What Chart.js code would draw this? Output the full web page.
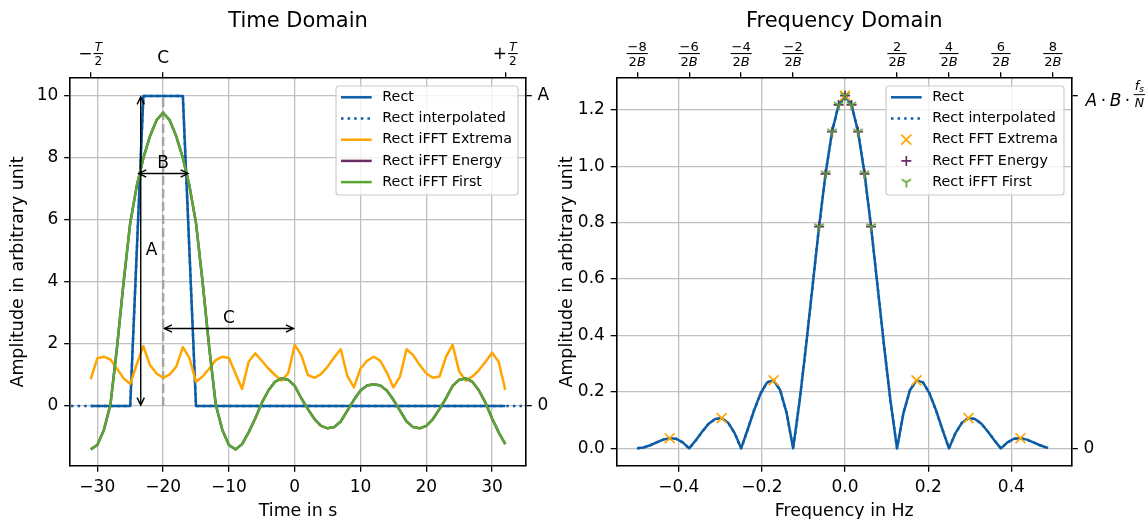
<!DOCTYPE html>
<html lang="en">
<head>
<meta charset="utf-8">
<title>Time Domain / Frequency Domain</title>
<script src="https://cdn.jsdelivr.net/npm/chart.js"></script>
<style>
  html, body { margin: 0; padding: 0; background: #fff; }
  #wrap { position: relative; width: 1148px; height: 519px; overflow: hidden; }
  #wrap canvas { position: absolute; top: 0; }
  #time-chart { left: 0; }
  #freq-chart { left: 540px; }
</style>
</head>
<body>
<div id="wrap">
  <canvas id="time-chart" width="574" height="519"></canvas>
  <canvas id="freq-chart" width="608" height="519"></canvas>
</div>
<script>
// ---------- time domain data ----------
const timeS = [-31, -30, -29, -28, -27, -26, -25, -24, -23, -22, -21, -20, -19, -18, -17, -16,
  -15, -14, -13, -12, -11, -10, -9, -8, -7, -6, -5, -4, -3, -2, -1, 0,
  1, 2, 3, 4, 5, 6, 7, 8, 9, 10, 11, 12, 13, 14, 15, 16,
  17, 18, 19, 20, 21, 22, 23, 24, 25, 26, 27, 28, 29, 30, 31, 32];
const rectAmp = [0, 0, 0, 0, 0, 0, 0, 5, 10, 10, 10, 10, 10, 10, 10, 5,
  0, 0, 0, 0, 0, 0, 0, 0, 0, 0, 0, 0, 0, 0, 0, 0,
  0, 0, 0, 0, 0, 0, 0, 0, 0, 0, 0, 0, 0, 0, 0, 0,
  0, 0, 0, 0, 0, 0, 0, 0, 0, 0, 0, 0, 0, 0, 0, 0];
const rectInterpT = [-35, -25, -24, -23, -17, -16, -15, 36];
const rectInterpAmp = [0, 0, 5, 10, 10, 5, 0, 0];
const ifftExtrema = [0.87, 1.54, 1.59, 1.50, 1.20, 0.89, 0.71, 1.35, 1.93, 1.32, 1.05, 0.91, 1.02, 1.27, 1.90, 1.55,
  0.78, 0.95, 1.20, 1.48, 1.59, 1.55, 1.05, 0.55, 1.43, 1.70, 1.46, 1.21, 1.00, 0.82, 1.05, 1.97,
  1.64, 1.00, 0.91, 1.03, 1.27, 1.57, 1.83, 0.97, 0.60, 1.21, 1.46, 1.59, 1.46, 1.08, 0.60, 0.95,
  1.83, 1.64, 1.32, 1.05, 0.91, 0.95, 1.59, 1.97, 1.11, 0.82, 0.95, 1.16, 1.43, 1.72, 1.43, 0.52];
const ifftFirst = [-1.40, -1.26, -0.77, 0.05, 1.90, 4.00, 5.90, 7.10, 8.00, 8.70, 9.22, 9.46, 9.22, 8.70, 8.00, 7.10,
  5.90, 4.00, 1.90, 0.05, -0.77, -1.26, -1.40, -1.23, -0.85, -0.40, 0.10, 0.50, 0.78, 0.89, 0.85, 0.65,
  0.25, -0.10, -0.42, -0.64, -0.72, -0.68, -0.50, -0.15, 0.20, 0.50, 0.66, 0.70, 0.66, 0.50, 0.20, -0.15,
  -0.50, -0.68, -0.72, -0.64, -0.42, -0.10, 0.25, 0.65, 0.85, 0.89, 0.78, 0.50, 0.10, -0.40, -0.85, -1.23];
const ifftEnergy = ifftFirst.slice(); // lies exactly under the green curve
const centerT = [-20, -20];
const centerAmp = [0, 10];
const timeTicks = [-30, -20, -10, 0, 10, 20, 30];
const ampTicks = [0, 2, 4, 6, 8, 10];
const timeTopTicks = [-31, -20, 32];
const timeTopLabels = ['−T/2', 'C', '+T/2'];
const timeRightTicks = [0, 10];
const timeRightLabels = ['0', 'A'];

// ---------- frequency domain data ----------
const freqHz = [-0.5, -0.4844, -0.4688, -0.4531, -0.4375, -0.4219, -0.4063, -0.3906,
  -0.375, -0.3594, -0.3438, -0.3281, -0.3125, -0.2969, -0.2813, -0.2656,
  -0.25, -0.2344, -0.2188, -0.2031, -0.1875, -0.1719, -0.1563, -0.1406,
  -0.125, -0.1094, -0.0938, -0.0781, -0.0625, -0.0469, -0.0313, -0.0156,
  0, 0.0156, 0.0313, 0.0469, 0.0625, 0.0781, 0.0938, 0.1094,
  0.125, 0.1406, 0.1563, 0.1719, 0.1875, 0.2031, 0.2188, 0.2344,
  0.25, 0.2656, 0.2813, 0.2969, 0.3125, 0.3281, 0.3438, 0.3594,
  0.375, 0.3906, 0.4063, 0.4219, 0.4375, 0.4531, 0.4688, 0.4844];
const rectSpec = [0, 0.003, 0.011, 0.021, 0.031, 0.036, 0.034, 0.021,
  0, 0.028, 0.059, 0.087, 0.104, 0.107, 0.091, 0.054,
  0, 0.066, 0.135, 0.195, 0.234, 0.241, 0.207, 0.126,
  0, 0.167, 0.364, 0.576, 0.786, 0.973, 1.122, 1.217,
  1.25, 1.217, 1.122, 0.973, 0.786, 0.576, 0.364, 0.167,
  0, 0.126, 0.207, 0.241, 0.234, 0.195, 0.135, 0.066,
  0, 0.054, 0.091, 0.107, 0.104, 0.087, 0.059, 0.028,
  0, 0.021, 0.034, 0.036, 0.031, 0.021, 0.011, 0.003];
const interpHz = [...freqHz, 0.4961];
const interpSpec = [...rectSpec, 0];
const extremaHz = [-0.4219, -0.2969, -0.1719, 0, 0.1719, 0.2969, 0.4219];
const extremaAmp = [0.036, 0.107, 0.241, 1.25, 0.241, 0.107, 0.036];
const energyHz = [-0.0625, -0.0469, -0.0313, -0.0156, 0, 0.0156, 0.0313, 0.0469, 0.0625];
const energyAmp = [0.786, 0.973, 1.122, 1.217, 1.25, 1.217, 1.122, 0.973, 0.786];
const firstHz = [-0.0625, -0.0469, -0.0313, -0.0156, 0, 0.0156, 0.0313, 0.0469, 0.0625];
const firstAmp = [0.786, 0.973, 1.122, 1.217, 1.25, 1.217, 1.122, 0.973, 0.786];
const freqTicks = [-0.4, -0.2, 0, 0.2, 0.4];
const specTicks = [0, 0.2, 0.4, 0.6, 0.8, 1.0, 1.2];
const freqTopTicks = [-0.5, -0.375, -0.25, -0.125, 0.125, 0.25, 0.375, 0.5];
const freqTopLabels = ['−8/2B', '−6/2B', '−4/2B', '−2/2B', '2/2B', '4/2B', '6/2B', '8/2B'];
const specRightTicks = [0, 1.25];
const specRightLabels = ['0', 'A·B·f_s/N'];

// ---------- look ----------
const FONT = '"DejaVu Sans", sans-serif';
const BLUE = '#0C5DA5', ORANGE = '#FFA500', PURPLE = '#6B2C66', GREEN = '#59A733', GRID = '#c0c0c0';
const TICK_SIZE = 17;
const TICK_FONT = { family: FONT, size: TICK_SIZE };
const LABEL_FONT = { family: FONT, size: 17.4 };
const LEGEND_SIZE = 14.3;

Chart.defaults.font.family = FONT;
Chart.defaults.color = '#000';

const pts = (xs, ys) => xs.map((x, i) => ({ x, y: ys[i] }));
const minus = s => String(s).replace('-', '\u2212');

function triDown(color, r, lw) {
  const c = document.createElement('canvas');
  const n = Math.ceil(2 * r + 2 * lw + 2);
  c.width = c.height = n;
  const g = c.getContext('2d');
  const m = n / 2;
  g.strokeStyle = color; g.lineWidth = lw;
  g.beginPath();
  g.moveTo(m, m); g.lineTo(m, m + r);
  g.moveTo(m, m); g.lineTo(m - r * 0.866, m - r * 0.5);
  g.moveTo(m, m); g.lineTo(m + r * 0.866, m - r * 0.5);
  g.stroke();
  return c;
}
const TRI = triDown(GREEN, 5.5, 1.7);

function mkScale(o) {
  return {
    type: 'linear',
    position: o.position,
    min: o.min, max: o.max,
    afterBuildTicks: s => { s.ticks = o.ticks.map(v => ({ value: v })); },
    afterFit: s => { if (s.isHorizontal()) s.height = o.size; else s.width = o.size; },
    ticks: { autoSkip: false, maxRotation: 0, minRotation: 0, padding: 5.8, font: TICK_FONT, color: '#000', callback: o.label },
    grid: { display: true, drawOnChartArea: !!o.grid, color: GRID, lineWidth: 1.3,
            drawTicks: true, tickLength: 5.8, tickWidth: 1.3, tickColor: '#000' },
    border: { display: true, color: '#000', width: 1.6 },
    title: o.title ? { display: true, text: o.title, font: LABEL_FONT, color: '#000', padding: o.titlePad } : { display: false },
  };
}

function lineSet(label, xs, ys, color, order, rank, extra) {
  return Object.assign({ label, data: pts(xs, ys), showLine: true, borderColor: color, backgroundColor: color,
    borderWidth: 2.5, pointRadius: 0, pointHoverRadius: 0, tension: 0, borderJoinStyle: 'round',
    order, legendRank: rank, legendKind: 'line' }, extra || {});
}
function markerSet(label, xs, ys, color, style, radius, order, rank, kind) {
  return { label, data: pts(xs, ys), showLine: false, pointStyle: style, pointRadius: radius, pointHoverRadius: radius,
    pointBorderColor: color, pointBackgroundColor: color, pointBorderWidth: 1.7, order, legendRank: rank, legendKind: kind };
}

// ---------- math-ish text helpers ----------
const mathRuns = s => s.match(/[A-Za-z]+|[^A-Za-z]+/g) || [];
const mathFont = (run, size) => (/[A-Za-z]/.test(run) ? 'italic ' : '') + size + 'px ' + FONT;
function mathWidth(ctx, s, size) {
  return mathRuns(s).reduce((w, r) => { ctx.font = mathFont(r, size); return w + ctx.measureText(r).width; }, 0);
}
function drawMath(ctx, s, x, y, size) {
  ctx.textAlign = 'left';
  mathRuns(s).forEach(r => { ctx.font = mathFont(r, size); ctx.fillText(r, x, y); x += ctx.measureText(r).width; });
  return x;
}

function topMath(values, labels, fs) {
  return {
    id: 'topMath',
    afterDraw(chart) {
      const s = chart.scales.xTop, ctx = chart.ctx, top = chart.chartArea.top;
      const lineY = top - 24.5;
      ctx.save();
      ctx.fillStyle = '#000'; ctx.textBaseline = 'alphabetic';
      values.forEach((v, i) => {
        const cx = s.getPixelForValue(v), label = labels[i];
        if (!label.includes('/')) {
          ctx.font = TICK_SIZE + 'px ' + FONT; ctx.textAlign = 'center';
          ctx.fillText(label, cx, top - 15.3);
          return;
        }
        let [num, den] = label.split('/');
        let pre = '';
        if (/^[−+][A-Za-z]/.test(num)) { pre = num[0]; num = num.slice(1); }
        const wn = mathWidth(ctx, num, fs), wd = mathWidth(ctx, den, fs);
        const fw = Math.max(wn, wd) + 2;
        ctx.font = TICK_SIZE + 'px ' + FONT;
        const wp = pre ? ctx.measureText(pre).width + 1 : 0;
        let x = cx - (wp + fw) / 2;
        if (pre) { ctx.textAlign = 'left'; ctx.fillText(pre, x, lineY + 5.8); x += wp; }
        drawMath(ctx, num, x + (fw - wn) / 2, lineY - 2.2, fs);
        drawMath(ctx, den, x + (fw - wd) / 2, lineY + fs * 0.73 + 3, fs);
        ctx.fillRect(x, lineY - 0.5, fw, 1.1);
      });
      ctx.restore();
    }
  };
}

function rightMath(value, text) {
  return {
    id: 'rightMath',
    afterDraw(chart) {
      const ctx = chart.ctx, y = chart.scales.yR.getPixelForValue(value);
      let x = chart.chartArea.right + 13.6;
      const parts = text.split('·');
      const frac = parts.pop();
      ctx.save();
      ctx.fillStyle = '#000'; ctx.textBaseline = 'alphabetic';
      parts.forEach(p => {
        x = drawMath(ctx, p, x, y + 10.5, TICK_SIZE) + 3.5;
        ctx.font = TICK_SIZE + 'px ' + FONT;
        ctx.fillText('·', x, y + 10.5);
        x += ctx.measureText('·').width + 3.5;
      });
      const [num, den] = frac.split('/');
      const [base, sub] = num.split('_');
      const fs = 12.5;
      ctx.font = 'italic ' + fs + 'px ' + FONT;
      const wb = ctx.measureText(base).width;
      ctx.font = 'italic 9px ' + FONT;
      const ws = ctx.measureText(sub).width;
      const wn = wb + ws, wd = mathWidth(ctx, den, fs);
      const fw = Math.max(wn, wd) + 2;
      const lineY = y - 1;
      ctx.font = 'italic ' + fs + 'px ' + FONT;
      ctx.fillText(base, x + (fw - wn) / 2, lineY - 4.5);
      ctx.font = 'italic 9px ' + FONT;
      ctx.fillText(sub, x + (fw - wn) / 2 + wb, lineY - 2.5);
      drawMath(ctx, den, x + (fw - wd) / 2, lineY + 12, fs);
      ctx.fillRect(x, lineY - 0.5, fw, 1);
      ctx.restore();
    }
  };
}

function arrowNotes(arrows, notes) {
  function head(ctx, tx, ty, fx, fy) {
    const a = Math.atan2(ty - fy, tx - fx), L = 7.5, W = 3.6;
    ctx.beginPath();
    ctx.moveTo(tx - L * Math.cos(a) + W * Math.sin(a), ty - L * Math.sin(a) - W * Math.cos(a));
    ctx.lineTo(tx, ty);
    ctx.lineTo(tx - L * Math.cos(a) - W * Math.sin(a), ty - L * Math.sin(a) + W * Math.cos(a));
    ctx.stroke();
  }
  return {
    id: 'arrowNotes',
    afterDatasetsDraw(chart) {
      const { ctx, scales: { x, y } } = chart;
      ctx.save();
      ctx.strokeStyle = '#000'; ctx.lineWidth = 1.4;
      arrows.forEach(a => {
        const x1 = x.getPixelForValue(a[0]), y1 = y.getPixelForValue(a[1]);
        const x2 = x.getPixelForValue(a[2]), y2 = y.getPixelForValue(a[3]);
        ctx.beginPath(); ctx.moveTo(x1, y1); ctx.lineTo(x2, y2); ctx.stroke();
        head(ctx, x2, y2, x1, y1);
        head(ctx, x1, y1, x2, y2);
      });
      ctx.fillStyle = '#000'; ctx.font = TICK_SIZE + 'px ' + FONT;
      ctx.textAlign = 'center'; ctx.textBaseline = 'middle';
      notes.forEach(n => ctx.fillText(n.text, x.getPixelForValue(n.at[0]), y.getPixelForValue(n.at[1])));
      ctx.restore();
    }
  };
}

const boxLegend = {
  id: 'boxLegend',
  afterDatasetsDraw(chart) {
    const items = chart.data.datasets.filter(d => d.legendRank).sort((a, b) => a.legendRank - b.legendRank);
    const { ctx, chartArea: area } = chart;
    ctx.save();
    ctx.font = LEGEND_SIZE + 'px ' + FONT;
    const textW = Math.max(...items.map(d => ctx.measureText(d.label).width));
    const rowH = 21.2;
    const w = 5 + 30.7 + 10.6 + textW + 6;
    const h = rowH * items.length + 3;
    const x0 = area.right - 8 - w, y0 = area.top + 8;
    ctx.beginPath();
    if (ctx.roundRect) ctx.roundRect(x0, y0, w, h, 3); else ctx.rect(x0, y0, w, h);
    ctx.fillStyle = 'rgba(255,255,255,0.8)'; ctx.fill();
    ctx.strokeStyle = '#cccccc'; ctx.lineWidth = 1.2; ctx.stroke();
    items.forEach((d, i) => {
      const cy = y0 + 11.3 + i * rowH;
      const hx0 = x0 + 5, hx1 = hx0 + 30.7, hcx = (hx0 + hx1) / 2;
      const isLine = d.legendKind === 'line' || d.legendKind === 'dotted';
      ctx.strokeStyle = isLine ? d.borderColor : d.pointBorderColor;
      ctx.setLineDash(d.legendKind === 'dotted' ? [2.5, 4.1] : []);
      if (isLine) {
        ctx.lineWidth = 2.5;
        ctx.beginPath(); ctx.moveTo(hx0, cy); ctx.lineTo(hx1, cy); ctx.stroke();
      } else if (d.legendKind === 'x') {
        ctx.lineWidth = 1.7;
        ctx.beginPath();
        ctx.moveTo(hcx - 5, cy - 5); ctx.lineTo(hcx + 5, cy + 5);
        ctx.moveTo(hcx - 5, cy + 5); ctx.lineTo(hcx + 5, cy - 5);
        ctx.stroke();
      } else if (d.legendKind === 'plus') {
        ctx.lineWidth = 1.7;
        ctx.beginPath();
        ctx.moveTo(hcx - 5, cy); ctx.lineTo(hcx + 5, cy);
        ctx.moveTo(hcx, cy - 5); ctx.lineTo(hcx, cy + 5);
        ctx.stroke();
      } else if (d.legendKind === 'tri') {
        ctx.drawImage(TRI, hcx - TRI.width / 2, cy - TRI.height / 2);
      }
      ctx.setLineDash([]);
      ctx.fillStyle = '#000'; ctx.textAlign = 'left'; ctx.textBaseline = 'middle';
      ctx.font = LEGEND_SIZE + 'px ' + FONT;
      ctx.fillText(d.label, hx1 + 10.6, cy);
    });
    ctx.restore();
  }
};

const baseOptions = title => ({
  responsive: false,
  devicePixelRatio: 1,
  animation: false,
  events: [],
  layout: { padding: 0 },
  plugins: {
    legend: { display: false },
    tooltip: { enabled: false },
    title: { display: true, text: title, fullSize: false, color: '#000',
             font: { family: FONT, size: 21, weight: 'normal' }, padding: { top: 9, bottom: 0 } },
  },
});

// ---------- left: time domain ----------
const timeOpts = baseOptions('Time Domain');
timeOpts.scales = {
  x: mkScale({ position: 'bottom', min: -34.15, max: 35.15, ticks: timeTicks, size: 53, grid: true,
               label: v => minus(v), title: 'Time in s', titlePad: { top: 0, bottom: -3 } }),
  xTop: mkScale({ position: 'top', min: -34.15, max: 35.15, ticks: timeTopTicks, size: 43.8, label: () => '' }),
  y: mkScale({ position: 'left', min: -1.935, max: 10.58, ticks: ampTicks, size: 70, grid: true,
               label: v => minus(v), title: 'Amplitude in arbitrary unit', titlePad: { top: 8, bottom: 0 } }),
  yR: mkScale({ position: 'right', min: -1.935, max: 10.58, ticks: timeRightTicks, size: 48,
                label: v => timeRightLabels[timeRightTicks.indexOf(v)] }),
};

new Chart(document.getElementById('time-chart'), {
  type: 'scatter',
  data: {
    datasets: [
      lineSet('Rect iFFT First', timeS, ifftFirst, GREEN, 0, 5),
      lineSet('Rect iFFT Energy', timeS, ifftEnergy, PURPLE, 1, 4),
      lineSet('Rect iFFT Extrema', timeS, ifftExtrema, ORANGE, 2, 3),
      lineSet('C marker', centerT, centerAmp, '#a6a6a6', 3, 0, { borderDash: [9, 4] }),
      lineSet('Rect interpolated', rectInterpT, rectInterpAmp, BLUE, 4, 2, { borderDash: [2.5, 4.1], legendKind: 'dotted' }),
      lineSet('Rect', timeS, rectAmp, BLUE, 5, 1),
    ],
  },
  options: timeOpts,
  plugins: [
    topMath(timeTopTicks, timeTopLabels, 12),
    arrowNotes(
      [[-23.4, 0.03, -23.4, 9.97], [-23.7, 7.5, -16.2, 7.5], [-19.8, 2.5, -0.2, 2.5]],
      [{ text: 'A', at: [-21.75, 5.0] }, { text: 'B', at: [-20, 7.83] }, { text: 'C', at: [-10, 2.83] }]
    ),
    boxLegend,
  ],
});

// ---------- right: frequency domain ----------
const freqOpts = baseOptions('Frequency Domain');
freqOpts.scales = {
  x: mkScale({ position: 'bottom', min: -0.5498, max: 0.5459, ticks: freqTicks, size: 53, grid: true,
               label: v => minus(v.toFixed(1)), title: 'Frequency in Hz', titlePad: { top: 0, bottom: -3 } }),
  xTop: mkScale({ position: 'top', min: -0.5498, max: 0.5459, ticks: freqTopTicks, size: 43.8, label: () => '' }),
  y: mkScale({ position: 'left', min: -0.0625, max: 1.3125, ticks: specTicks, size: 76.5, grid: true,
               label: v => v.toFixed(1), title: 'Amplitude in arbitrary unit', titlePad: { top: 17, bottom: 0 } }),
  yR: mkScale({ position: 'right', min: -0.0625, max: 1.3125, ticks: specRightTicks, size: 76,
                label: v => (v === 0 ? specRightLabels[0] : '') }),
};

new Chart(document.getElementById('freq-chart'), {
  type: 'scatter',
  data: {
    datasets: [
      markerSet('Rect iFFT First', firstHz, firstAmp, GREEN, TRI, 5, 0, 5, 'tri'),
      markerSet('Rect FFT Energy', energyHz, energyAmp, PURPLE, 'cross', 5, 1, 4, 'plus'),
      markerSet('Rect FFT Extrema', extremaHz, extremaAmp, ORANGE, 'crossRot', 7, 2, 3, 'x'),
      lineSet('Rect interpolated', interpHz, interpSpec, BLUE, 3, 2, { borderDash: [2.5, 4.1], legendKind: 'dotted' }),
      lineSet('Rect', freqHz, rectSpec, BLUE, 4, 1),
    ],
  },
  options: freqOpts,
  plugins: [topMath(freqTopTicks, freqTopLabels, 13), rightMath(specRightTicks[1], specRightLabels[1]), boxLegend],
});
</script>
</body>
</html>
